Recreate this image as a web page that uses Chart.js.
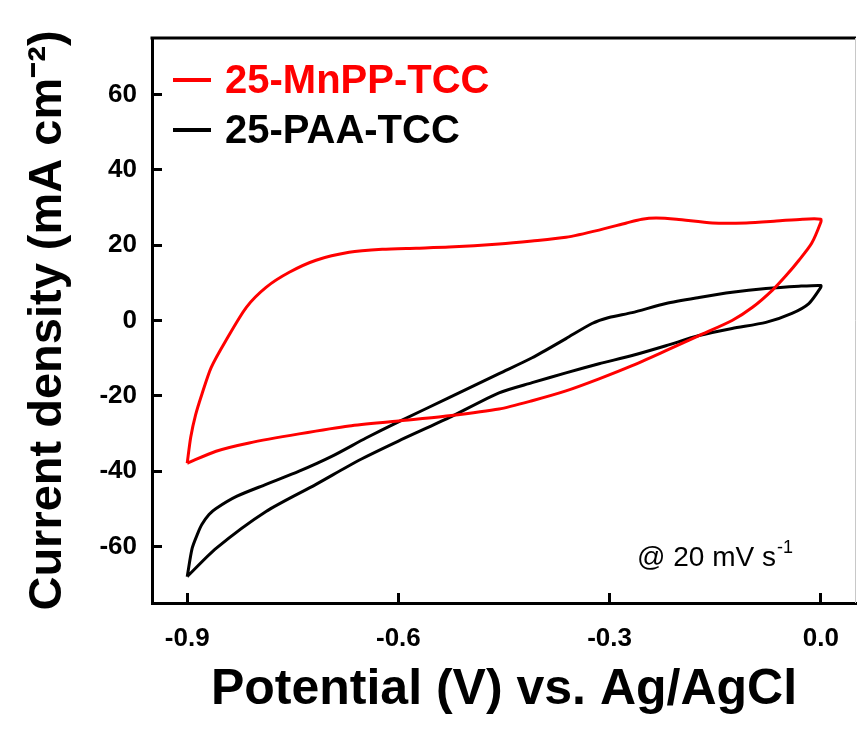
<!DOCTYPE html>
<html>
<head>
<meta charset="utf-8">
<script src="https://cdn.jsdelivr.net/npm/chart.js@4/dist/chart.umd.min.js"></script>
<style>
  html, body { margin: 0; padding: 0; background: #fff; overflow: hidden; }
  #box { width: 857px; height: 731px; }
</style>
</head>
<body>
<div id="box"><canvas id="cvChart"></canvas></div>
<script>
// 25-MnPP-TCC loop (forward sweep then return), potential in V, current in mA cm-2
const mnppV = [-0.9, -0.895, -0.888, -0.879, -0.866, -0.845, -0.816, -0.788, -0.755, -0.717, -0.67, -0.623, -0.575, -0.528, -0.457, -0.41, -0.362, -0.315, -0.276, -0.254, -0.234, -0.205, -0.154, -0.106, -0.063, -0.026, 0,
               0, -0.013, -0.031, -0.049, -0.069, -0.097, -0.126, -0.173, -0.22, -0.268, -0.315, -0.362, -0.41, -0.457, -0.528, -0.6, -0.67, -0.741, -0.812, -0.859, -0.9];
const mnppJ = [-37.9, -31, -25, -19.5, -12.5, -5.3, 3.5, 8.8, 12.8, 16, 18.1, 18.9, 19.2, 19.5, 20.3, 21.1, 22.1, 24, 25.9, 26.9, 27.2, 26.9, 25.9, 25.9, 26.4, 26.9, 26.9,
               26.1, 20.5, 16, 12, 8, 3.5, 0, -4, -8, -12, -15.5, -18.7, -21.3, -23.5, -25.3, -26.7, -28, -30.1, -32.5, -34.7, -37.9];

// 25-PAA-TCC loop
const paaV = [-0.9, -0.893, -0.885, -0.879, -0.869, -0.859, -0.83, -0.788, -0.741, -0.694, -0.646, -0.6, -0.528, -0.457, -0.41, -0.362, -0.325, -0.301, -0.268, -0.22, -0.173, -0.126, -0.078, -0.031, 0,
              0, -0.017, -0.041, -0.078, -0.126, -0.173, -0.22, -0.268, -0.315, -0.362, -0.41, -0.457, -0.528, -0.6, -0.656, -0.717, -0.788, -0.859, -0.9];
const paaJ = [-68, -60.5, -56.5, -54.1, -51.5, -49.9, -46.7, -43.5, -40, -36, -31.2, -26.9, -20.5, -14.1, -9.9, -4.8, -0.8, 0.8, 2.1, 4.5, 6.1, 7.5, 8.5, 9.1, 9.3,
              8.8, 4.5, 1.9, -0.5, -2.1, -4, -6.7, -9.3, -11.5, -13.9, -16.5, -19.2, -25.8, -32, -37.1, -43.5, -50.7, -60.5, -68];

const xTicks = [-0.9, -0.6, -0.3, 0.0];
const yTicks = [-60, -40, -20, 0, 20, 40, 60];

const seriesNames = ['25-MnPP-TCC', '25-PAA-TCC'];
const seriesColors = ['#ff0000', '#000000'];

function pts(xs, ys) {
  return xs.map((x, i) => ({ x: x, y: ys[i] }));
}

const FONT = 'Liberation Sans, Arial, sans-serif';

// legend + scan-rate note + top frame line
const extras = {
  id: 'extras',
  afterDraw(chart) {
    const ctx = chart.ctx;
    const a = chart.chartArea;
    ctx.save();
    ctx.strokeStyle = '#000';
    ctx.lineWidth = 3;
    ctx.beginPath();
    ctx.moveTo(a.left - 1.5, a.top);
    ctx.lineTo(a.right, a.top);
    ctx.stroke();
    ctx.strokeStyle = '#c8c8c8';
    ctx.lineWidth = 1;
    ctx.beginPath();
    ctx.moveTo(a.right - 0.5, a.top);
    ctx.lineTo(a.right - 0.5, a.bottom);
    ctx.stroke();

    chart.data.datasets.forEach((ds, i) => {
      const y = 80 + i * 50;
      ctx.strokeStyle = ds.borderColor;
      ctx.lineWidth = 4;
      ctx.beginPath();
      ctx.moveTo(a.left + 21, y);
      ctx.lineTo(a.left + 59, y);
      ctx.stroke();
      ctx.fillStyle = ds.borderColor;
      ctx.font = 'bold 40px ' + FONT;
      ctx.textBaseline = 'middle';
      ctx.textAlign = 'left';
      ctx.fillText(ds.label, a.left + 73, y + 2);
    });

    ctx.fillStyle = '#000';
    ctx.textBaseline = 'alphabetic';
    ctx.font = '28px ' + FONT;
    const txt = '@ 20 mV s';
    ctx.fillText(txt, 637, 566);
    const w = ctx.measureText(txt).width;
    ctx.font = '18px ' + FONT;
    ctx.fillText('-1', 637 + w + 1, 553);
    ctx.restore();
  }
};

new Chart(document.getElementById('cvChart'), {
  type: 'scatter',
  data: {
    datasets: [{
      label: seriesNames[0],
      data: pts(mnppV, mnppJ),
      borderColor: seriesColors[0],
      showLine: true,
      borderWidth: 3,
      pointRadius: 0,
      tension: 0.25
    }, {
      label: seriesNames[1],
      data: pts(paaV, paaJ),
      borderColor: seriesColors[1],
      showLine: true,
      borderWidth: 3,
      pointRadius: 0,
      tension: 0.25
    }]
  },
  options: {
    responsive: true,
    maintainAspectRatio: false,
    animation: false,
    layout: { padding: { top: 38, right: 1, left: 0, bottom: 0 } },
    plugins: {
      legend: { display: false },
      tooltip: { enabled: false }
    },
    scales: {
      x: {
        type: 'linear',
        min: -0.95,
        max: 0.05,
        afterBuildTicks: s => { s.ticks = xTicks.map(v => ({ value: v })); },
        afterFit: s => { s.height = 128; s.paddingLeft = 0; s.paddingRight = 0; },
        ticks: {
          color: '#000',
          padding: 30,
          font: { family: FONT, size: 26, weight: 'bold' },
          callback: v => v.toFixed(1)
        },
        grid: { drawOnChartArea: false, tickLength: -10, color: '#000', lineWidth: 3 },
        border: { display: true, color: '#000', width: 3 },
        title: {
          display: true,
          text: 'Potential (V) vs. Ag/AgCl',
          color: '#000',
          font: { family: FONT, size: 50, weight: 'bold' },
          padding: { top: 0, bottom: 11 }
        }
      },
      y: {
        type: 'linear',
        min: -75,
        max: 75,
        afterBuildTicks: s => { s.ticks = yTicks.map(v => ({ value: v })); },
        afterFit: s => { s.width = 152; s.paddingTop = 0; s.paddingBottom = 0; },
        ticks: {
          color: '#000',
          padding: 25,
          font: { family: FONT, size: 26, weight: 'bold' }
        },
        grid: { drawOnChartArea: false, tickLength: -10, color: '#000', lineWidth: 3 },
        border: { display: true, color: '#000', width: 3 },
        title: {
          display: true,
          text: 'Current density (mA cm\u207B\u00B2)',
          color: '#000',
          font: { family: FONT, size: 47, weight: 'bold' },
          padding: { top: 20, bottom: 0 }
        }
      }
    }
  },
  plugins: [extras]
});
</script>
</body>
</html>
